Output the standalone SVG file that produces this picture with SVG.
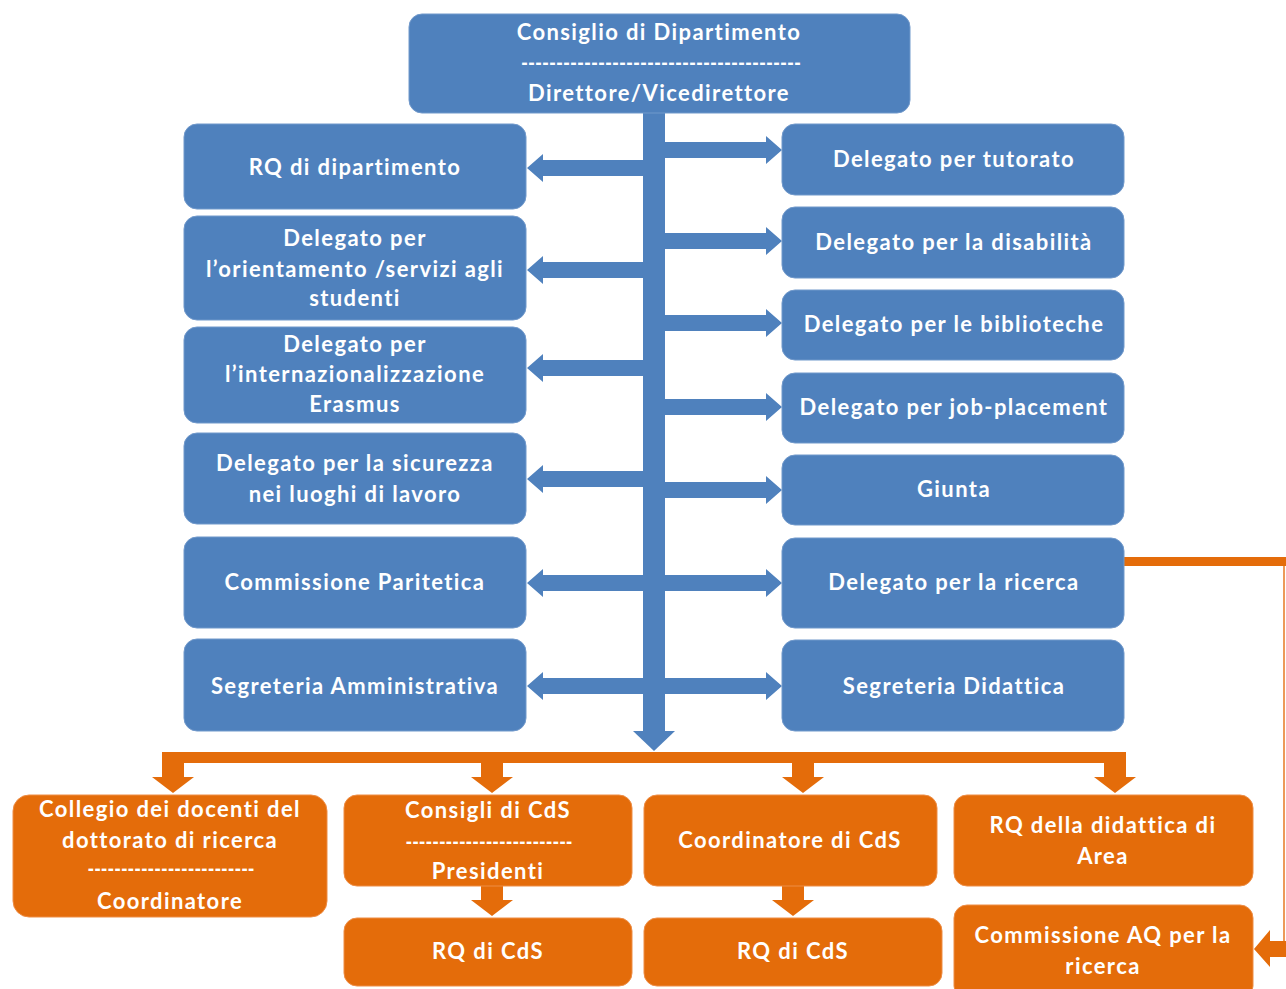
<svg xmlns="http://www.w3.org/2000/svg" width="1286" height="989" viewBox="0 0 1286 989">
<defs>
<style>
.b{fill:#4F81BD;stroke:#7199CB;stroke-width:1}
.o{fill:#E46C0A;stroke:#EE8D45;stroke-width:1}
.ab{fill:#4F81BD}
.ao{fill:#E46C0A}
text{font-family:Lato,"Open Sans","Liberation Sans",sans-serif;font-weight:bold;font-size:22px;letter-spacing:1.4px;fill:#FFFFFF;text-anchor:middle}
.d{letter-spacing:0}
</style>
<path id="al" d="M0,-8 L-100,-8 L-100,-14 L-116,0 L-100,14 L-100,8 L0,8 Z"/>
<path id="ar" d="M0,-8 L101,-8 L101,-14 L117,0 L101,14 L101,8 L0,8 Z"/>
<path id="ad" d="M-11,0 L11,0 L11,14 L21,14 L0,30 L-21,14 L-11,14 Z"/>
</defs>
<rect width="1286" height="989" fill="#FFFFFF"/>

<g id="connectors">
  <rect class="ab" x="643" y="110" width="22" height="622"/>
  <polygon class="ab" points="633,731 675,731 654,751"/>
  <use href="#al" class="ab" x="643" y="168"/>
  <use href="#al" class="ab" x="643" y="270"/>
  <use href="#al" class="ab" x="643" y="368"/>
  <use href="#al" class="ab" x="643" y="479"/>
  <use href="#al" class="ab" x="643" y="583"/>
  <use href="#al" class="ab" x="643" y="686"/>
  <use href="#ar" class="ab" x="665" y="150"/>
  <use href="#ar" class="ab" x="665" y="241"/>
  <use href="#ar" class="ab" x="665" y="323"/>
  <use href="#ar" class="ab" x="665" y="407"/>
  <use href="#ar" class="ab" x="665" y="490"/>
  <use href="#ar" class="ab" x="665" y="583"/>
  <use href="#ar" class="ab" x="665" y="686"/>

  <rect class="ao" x="162" y="752" width="964" height="11"/>
  <use href="#ad" class="ao" x="173" y="763"/>
  <use href="#ad" class="ao" x="492" y="763"/>
  <use href="#ad" class="ao" x="803" y="763"/>
  <use href="#ad" class="ao" x="1115" y="763"/>
  <use href="#ad" class="ao" x="492" y="886"/>
  <use href="#ad" class="ao" x="793" y="886"/>

  <rect class="ao" x="1124" y="557" width="162" height="9"/>
  <line x1="1284" y1="566" x2="1284" y2="942" stroke="#EC9A5A" stroke-width="2"/>
  <polygon class="ao" points="1286,941 1270,941 1270,930 1254,949 1270,967 1270,957 1286,957"/>
</g>

<g id="n-consiglio">
  <rect class="b" x="409" y="14" width="501" height="99" rx="13"/>
  <text x="659" y="40">Consiglio di Dipartimento</text>
  <text class="d" x="661" y="71" textLength="280" lengthAdjust="spacingAndGlyphs">----------------------------------------</text>
  <text x="659" y="101">Direttore/Vicedirettore</text>
</g>

<g id="n-rq-dip">
  <rect class="b" x="184" y="124" width="342" height="85" rx="13"/>
  <text x="355" y="175">RQ di dipartimento</text>
</g>
<g id="n-orientamento">
  <rect class="b" x="184" y="216" width="342" height="104" rx="13"/>
  <text x="355" y="246">Delegato per</text>
  <text x="355" y="277">l’orientamento /servizi agli</text>
  <text x="355" y="306">studenti</text>
</g>
<g id="n-internaz">
  <rect class="b" x="184" y="327" width="342" height="96" rx="13"/>
  <text x="355" y="352">Delegato per</text>
  <text x="355" y="382">l’internazionalizzazione</text>
  <text x="355" y="412">Erasmus</text>
</g>
<g id="n-sicurezza">
  <rect class="b" x="184" y="433" width="342" height="91" rx="13"/>
  <text x="355" y="471">Delegato per la sicurezza</text>
  <text x="355" y="502">nei luoghi di lavoro</text>
</g>
<g id="n-paritetica">
  <rect class="b" x="184" y="537" width="342" height="91" rx="13"/>
  <text x="355" y="590">Commissione Paritetica</text>
</g>
<g id="n-segr-amm">
  <rect class="b" x="184" y="639" width="342" height="92" rx="13"/>
  <text x="355" y="694">Segreteria Amministrativa</text>
</g>

<g id="n-tutorato">
  <rect class="b" x="782" y="124" width="342" height="71" rx="13"/>
  <text x="954" y="167">Delegato per tutorato</text>
</g>
<g id="n-disabilita">
  <rect class="b" x="782" y="207" width="342" height="71" rx="13"/>
  <text x="954" y="250">Delegato per la disabilità</text>
</g>
<g id="n-biblioteche">
  <rect class="b" x="782" y="290" width="342" height="70" rx="13"/>
  <text x="954" y="332">Delegato per le biblioteche</text>
</g>
<g id="n-job">
  <rect class="b" x="782" y="373" width="342" height="70" rx="13"/>
  <text x="954" y="415">Delegato per job-placement</text>
</g>
<g id="n-giunta">
  <rect class="b" x="782" y="455" width="342" height="70" rx="13"/>
  <text x="954" y="497">Giunta</text>
</g>
<g id="n-ricerca">
  <rect class="b" x="782" y="538" width="342" height="90" rx="13"/>
  <text x="954" y="590">Delegato per la ricerca</text>
</g>
<g id="n-segr-did">
  <rect class="b" x="782" y="640" width="342" height="91" rx="13"/>
  <text x="954" y="694">Segreteria Didattica</text>
</g>

<g id="n-collegio">
  <rect class="o" x="13" y="795" width="314" height="122" rx="16"/>
  <text x="170" y="817">Collegio dei docenti del</text>
  <text x="170" y="848">dottorato di ricerca</text>
  <text class="d" x="171" y="877" textLength="167" lengthAdjust="spacingAndGlyphs">-------------------------</text>
  <text x="170" y="909">Coordinatore</text>
</g>
<g id="n-consigli-cds">
  <rect class="o" x="344" y="795" width="288" height="91" rx="13"/>
  <text x="488" y="818">Consigli di CdS</text>
  <text class="d" x="489" y="850" textLength="167" lengthAdjust="spacingAndGlyphs">-------------------------</text>
  <text x="488" y="879">Presidenti</text>
</g>
<g id="n-coord-cds">
  <rect class="o" x="644" y="795" width="293" height="91" rx="13"/>
  <text x="790" y="848">Coordinatore di CdS</text>
</g>
<g id="n-rq-area">
  <rect class="o" x="954" y="795" width="299" height="91" rx="13"/>
  <text x="1103" y="833">RQ della didattica di</text>
  <text x="1103" y="864">Area</text>
</g>
<g id="n-rq-cds-1">
  <rect class="o" x="344" y="918" width="288" height="68" rx="13"/>
  <text x="488" y="959">RQ di CdS</text>
</g>
<g id="n-rq-cds-2">
  <rect class="o" x="644" y="918" width="298" height="68" rx="13"/>
  <text x="793" y="959">RQ di CdS</text>
</g>
<g id="n-comm-aq">
  <rect class="o" x="954" y="905" width="299" height="94" rx="13"/>
  <text x="1103" y="943">Commissione AQ per la</text>
  <text x="1103" y="974">ricerca</text>
</g>
</svg>
